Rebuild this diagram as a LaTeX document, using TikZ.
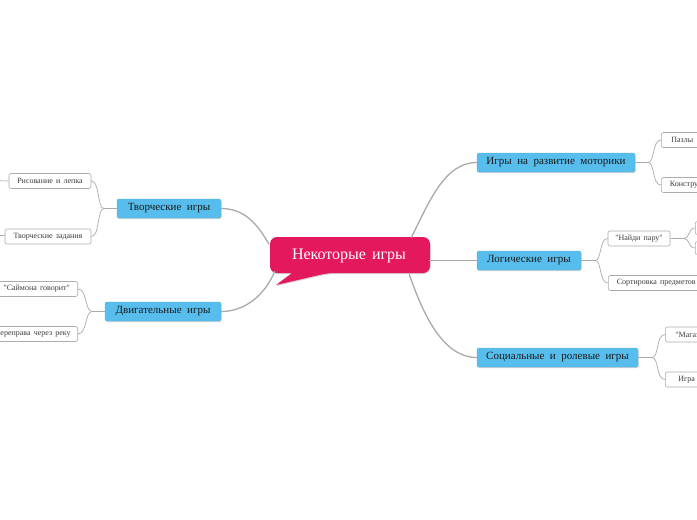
\documentclass[tikz,border=0pt]{standalone}
\usepackage{fontspec}
\setmainfont{Liberation Serif}
\usetikzlibrary{shadows,calc}
\definecolor{crimson}{RGB}{228,24,92}
\definecolor{topicblue}{RGB}{86,189,236}
\definecolor{linegray}{RGB}{170,170,170}
\definecolor{subtext}{RGB}{60,60,60}
\newlength{\myws}
\newcommand{\sq}{\textquotedbl}
\tikzset{
  topic/.style={rectangle, rounded corners=2pt, fill=topicblue, draw=topicblue!85!gray,
    inner sep=0pt, minimum height=19pt, text=black!90,
    font=\fontsize{11}{13}\selectfont,
    execute at begin node={\setlength{\myws}{5.5pt}\spaceskip=\myws},
    drop shadow={opacity=0.35, shadow xshift=0.6pt, shadow yshift=-1pt}},
  sub/.style={rectangle, rounded corners=2pt, fill=white, draw=gray!65, line width=0.6pt,
    inner sep=0pt, minimum height=15pt, text=subtext,
    font=\fontsize{8}{9}\selectfont,
    execute at begin node={\setlength{\myws}{3.2pt}\spaceskip=\myws}},
  mainline/.style={draw=linegray, line width=1.3pt},
  subline/.style={draw=linegray, line width=0.7pt},
}
\begin{document}
\begin{tikzpicture}[x=1pt,y=-1pt]
\useasboundingbox (0,0) rectangle (697,520);
\fill[white] (0,0) rectangle (697,520);

% central callout
\path[fill=crimson, drop shadow={opacity=0.35, shadow xshift=0.6pt, shadow yshift=-1pt}]
  [rounded corners=7pt] (270,237) -- (430,237) -- (430,273) -- (328,273)
  [sharp corners] -- (276,285) -- (292,273)
  [rounded corners=7pt] -- (270,273) -- cycle;
\node[inner sep=0pt, minimum width=160pt, minimum height=36pt, text=white,
  font=\fontsize{16}{18}\selectfont,
  execute at begin node={\setlength{\myws}{6pt}\spaceskip=\myws}] (c) at (349,256) {Некоторые игры};

% topics
\node[topic, minimum width=104pt] (t1) at (169,208.5) {Творческие игры};
\node[topic, minimum width=116pt] (t2) at (163,311.5) {Двигательные игры};
\node[topic, minimum width=158pt] (t3) at (556,162.5) {Игры на развитие моторики};
\node[topic, minimum width=104pt] (t4) at (529,260.5) {Логические игры};
\node[topic, minimum width=161pt] (t5) at (557.5,357.5) {Социальные и ролевые игры};

% subtopics
\node[sub, minimum width=82pt] (s1) at (50,181) {Рисование и лепка};
\node[sub, minimum width=86pt] (s2) at (48,236.5) {Творческие задания};
\node[sub, anchor=east, minimum width=82pt] (s3) at (78,289) {\sq Саймона говорит\sq};
\node[sub, anchor=east, minimum width=90pt] (s4) at (78,334) {Переправа через реку};
\node[sub, anchor=west, minimum width=42pt] (s5) at (661,140) {Пазлы};
\node[sub, anchor=west, minimum width=66pt] (s6) at (661,185) {Конструкторы};
\node[sub, minimum width=62pt] (s7) at (639,238.5) {\sq Найди пару\sq};
\node[sub, anchor=west, minimum width=96pt] (s8) at (608,283) {Сортировка предметов};
\node[sub, anchor=west, minimum width=56pt] (s9) at (665,334.5) {\sq Магазин\sq};
\node[sub, anchor=west, minimum width=80pt] (s10) at (665,379.5) {Игра в магазин};
\node[sub, anchor=west, minimum width=30pt, minimum height=13pt] (s11) at (695,228) {};
\node[sub, anchor=west, minimum width=30pt, minimum height=13pt] (s12) at (695,248) {};

% off-page children ends
\coordinate (o1) at (-10,180.5);
\coordinate (o2) at (-10,235);

% main connectors
\draw[mainline] ($(c.north east)+(-18,0)$) .. controls (430,200) and (445,162.5) .. (t3.west);
\draw[mainline] (c.east |- t4.west) -- (t4.west);
\draw[mainline] ($(c.south east)+(-20,0)$) .. controls (425,320) and (445,357.5) .. (t5.west);
\draw[mainline] ($(c.west)+(0,-12)$) .. controls (258,225) and (245,208.5) .. (t1.east);
\draw[mainline] ($(c.south west)+(6,-3)$) .. controls (265,295) and (245,311.5) .. (t2.east);

% sub connectors: left
\draw[subline] (t1.west) -- (104,208.5) .. controls (97,208.5) and (100,181) .. (s1.east);
\draw[subline] (104,208.5) .. controls (97,208.5) and (100,236.5) .. (s2.east);
\draw[subline] (t2.west) -- (92,311.5) .. controls (85,311.5) and (87,289) .. (s3.east);
\draw[subline] (92,311.5) .. controls (85,311.5) and (87,334) .. (s4.east);
\draw[subline] (s1.west) -- (o1);
\draw[subline] (s2.west |- o2) -- (o2);

% sub connectors: right
\draw[subline] (t3.east) -- (648,162.5) .. controls (655,162.5) and (652,140) .. (s5.west);
\draw[subline] (648,162.5) .. controls (655,162.5) and (652,185) .. (s6.west);
\draw[subline] (t4.east) -- (595,260.5) .. controls (602,260.5) and (599,238.5) .. (s7.west);
\draw[subline] (595,260.5) .. controls (602,260.5) and (599,283) .. (s8.west);
\draw[subline] (t5.east) -- (652,357.5) .. controls (659,357.5) and (656,334.5) .. (s9.west);
\draw[subline] (652,357.5) .. controls (659,357.5) and (656,379.5) .. (s10.west);
\draw[subline] (s7.east) -- (684,238.5) .. controls (690,238.5) and (688,228) .. (s11.west);
\draw[subline] (684,238.5) .. controls (690,238.5) and (688,248) .. (s12.west);
\end{tikzpicture}
\end{document}
